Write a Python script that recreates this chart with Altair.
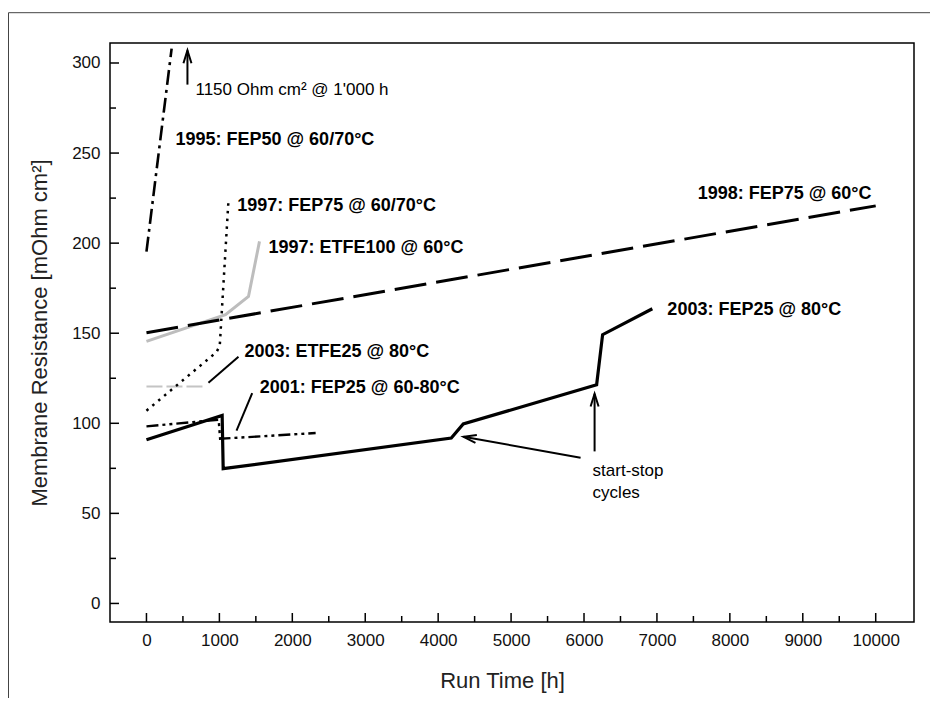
import altair as alt
import pandas as pd

FONT = "Liberation Sans"

# ---- series (run time [h], membrane resistance [mOhm cm2]) ----
s1995_t = [0, 345]
s1995_r = [195.3, 308]
s1997f_t = [0, 960, 1005, 1125]
s1997f_r = [107, 139.5, 143, 224]
s1997e_t = [0, 1084, 1399, 1550]
s1997e_r = [145.5, 160.3, 170.4, 201]
s1998_t = [0, 10000]
s1998_r = [150.3, 220.7]
s2003e_t = [0, 810]
s2003e_r = [120.4, 120.4]
s2001_t = [0, 990, 1010, 2320]
s2001_r = [98.3, 102, 91.4, 94.6]
s2003f_t = [0, 1038, 1052, 4180, 4344, 6173, 6255, 6937]
s2003f_r = [90.9, 104.4, 74.8, 91.8, 99.6, 121.4, 149.2, 163.6]

# ---- labels ----
lab_text = ["1995: FEP50 @ 60/70°C", "1997: FEP75 @ 60/70°C", "1997: ETFE100 @ 60°C",
            "1998: FEP75 @ 60°C", "2003: FEP25 @ 80°C", "2003: ETFE25 @ 80°C",
            "2001: FEP25 @ 60-80°C"]
lab_t = [398, 1244, 1674, 7558, 7143, 1344, 1554]
lab_r = [257.4, 220.8, 197.5, 227.5, 163, 139.3, 119.7]

note_text = ["1150 Ohm cm² @ 1'000 h", "start-stop", "cycles"]
note_t = [672, 6118, 6118]
note_r = [285.2, 73.7, 61.5]

# leader lines
lead_t = [850, 1235]
lead_r = [122.5, 95.9]
lead_t2 = [1262, 1450]
lead_r2 = [137, 116.8]

# arrows (tail -> tip)
arr_t = [562, 6145, 5953]
arr_r = [288, 84.4, 80.9]
arr_t2 = [562, 6145, 4348]
arr_r2 = [307, 116.4, 92.5]
arr_ang = [0, 0, 280]

# axis ticks
x_major = list(range(0, 10001, 1000))
x_minor = list(range(500, 10000, 1000))
y_major = list(range(0, 301, 50))
y_minor = list(range(25, 300, 50))

W, H = 804, 579
xs = alt.Scale(domain=[-500, 10525], nice=False, zero=False)
ys = alt.Scale(domain=[-10.3, 311.1], nice=False, zero=False)

xaxis = alt.Axis(values=x_major, format="d", ticks=False, domain=False, grid=False,
                 labelFontSize=17, labelPadding=10, labelFont=FONT, labelColor="#111",
                 labelFlush=False,
                 title="Run Time [h]", titleFontSize=22, titleFontWeight="normal",
                 titleFont=FONT, titleColor="#222", titlePadding=22, titleX=392)
yaxis = alt.Axis(values=y_major, format="d", ticks=False, domain=False, grid=False,
                 labelFontSize=17, labelPadding=10, labelFont=FONT, labelColor="#111",
                 title="Membrane Resistance [mOhm cm²]", titleFontSize=22,
                 titleFontWeight="normal", titleFont=FONT, titleColor="#222",
                 titlePadding=20)


def X(f="t"):
    return alt.X(f"{f}:Q", scale=xs, axis=xaxis)


def Y(f="r"):
    return alt.Y(f"{f}:Q", scale=ys, axis=yaxis)


def line(ts, rs, color, width, dash=None):
    df = pd.DataFrame({"t": ts, "r": rs, "i": list(range(len(ts)))})
    kw = dict(color=color, strokeWidth=width, clip=True, strokeCap="butt", strokeJoin="miter")
    if dash:
        kw["strokeDash"] = dash
    return alt.Chart(df).mark_line(**kw).encode(x=X(), y=Y(), order=alt.Order("i:Q"))


layers = []
layers.append(line(s1997e_t, s1997e_r, "#bdbdbd", 3))
layers.append(line(s2003e_t, s2003e_r, "#c4c4c4", 2, [16, 4]))
layers.append(line(s1998_t, s1998_r, "black", 3, [32, 10]))
layers.append(line(s1995_t, s1995_r, "black", 2.6, [15, 5, 3, 5]))
layers.append(line(s1997f_t, s1997f_r, "black", 2.5, [2.5, 5.2]))
layers.append(line(s2001_t, s2001_r, "black", 2.4, [12, 4, 3, 4, 3, 4]))
layers.append(line(s2003f_t, s2003f_r, "black", 3.2))

# leader lines
lead_df = pd.DataFrame({"t": lead_t, "r": lead_r, "t2": lead_t2, "r2": lead_r2})
layers.append(alt.Chart(lead_df).mark_rule(color="black", strokeWidth=2).encode(
    x=X(), y=Y(), x2="t2:Q", y2="r2:Q"))

# arrows
arr_df = pd.DataFrame({"t": arr_t, "r": arr_r, "t2": arr_t2, "r2": arr_r2, "ang": arr_ang})
layers.append(alt.Chart(arr_df).mark_rule(color="black", strokeWidth=2).encode(
    x=X(), y=Y(), x2="t2:Q", y2="r2:Q"))
head_df = pd.DataFrame({"t": arr_t2, "r": arr_r2, "ang": arr_ang})
layers.append(alt.Chart(head_df).mark_point(
    shape="M-1,3.2L0,0L1,3.2", filled=False, color="black", strokeWidth=2, size=64,
    opacity=1).encode(x=X(), y=Y(), angle=alt.Angle("ang:Q", scale=None)))

# labels
lab_df = pd.DataFrame({"t": lab_t, "r": lab_r, "label": lab_text})
layers.append(alt.Chart(lab_df).mark_text(
    align="left", baseline="middle", font=FONT, fontSize=18, fontWeight="bold",
    color="black").encode(x=X(), y=Y(), text="label:N"))
note_df = pd.DataFrame({"t": note_t, "r": note_r, "label": note_text})
layers.append(alt.Chart(note_df).mark_text(
    align="left", baseline="middle", font=FONT, fontSize=17, color="black").encode(
    x=X(), y=Y(), text="label:N"))

# inward ticks
layers.append(alt.Chart(pd.DataFrame({"t": x_major})).mark_rule(color="black", strokeWidth=1.5).encode(
    x=X(), y=alt.value(H), y2=alt.value(H - 9)))
layers.append(alt.Chart(pd.DataFrame({"t": x_minor})).mark_rule(color="black", strokeWidth=1.5).encode(
    x=X(), y=alt.value(H), y2=alt.value(H - 6)))
layers.append(alt.Chart(pd.DataFrame({"r": y_major})).mark_rule(color="black", strokeWidth=1.5).encode(
    y=Y(), x=alt.value(0), x2=alt.value(9)))
layers.append(alt.Chart(pd.DataFrame({"r": y_minor})).mark_rule(color="black", strokeWidth=1.5).encode(
    y=Y(), x=alt.value(0), x2=alt.value(6)))

# outer figure border (left and top)
one = pd.DataFrame({"a": [0]})
layers.append(alt.Chart(one).mark_rule(color="#444", strokeWidth=1, clip=False).encode(
    x=alt.value(-101.5), y=alt.value(-30.3), y2=alt.value(655)))
layers.append(alt.Chart(one).mark_rule(color="#444", strokeWidth=1, clip=False).encode(
    x=alt.value(-101.5), x2=alt.value(820), y=alt.value(-30.3)))

chart = alt.layer(*layers).properties(
    width=W, height=H,
    autosize=alt.AutoSizeParams(type="none"),
    padding={"left": 102, "top": 35, "right": 16, "bottom": 76},
    background="white",
).configure_view(stroke="black", strokeWidth=1.5)

chart.save("out.html", embed_options={"renderer": "svg", "actions": False})
